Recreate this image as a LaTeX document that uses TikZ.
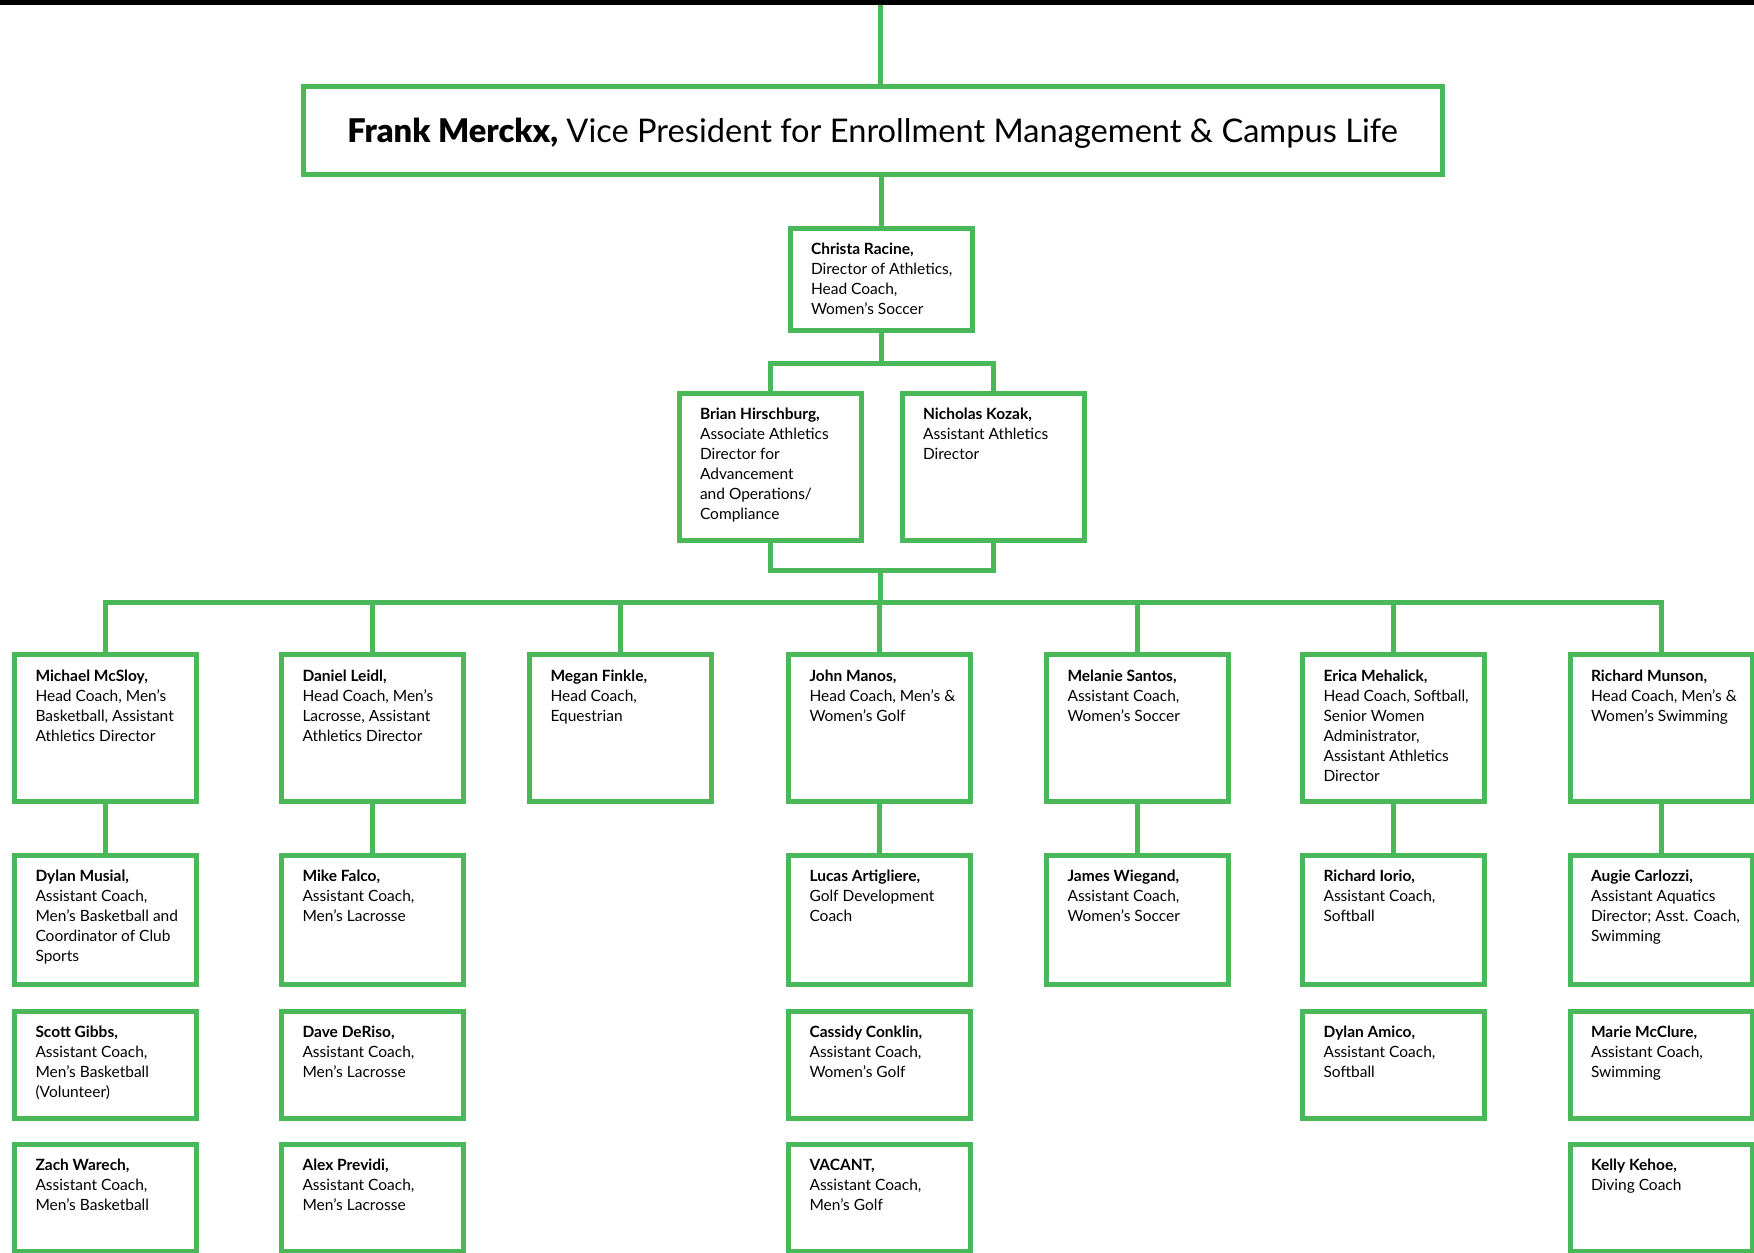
\documentclass[tikz,border=0pt]{standalone}
\usepackage{fontspec}
\setmainfont{Lato}
\newfontfamily\heavyfont{Lato Black}
\definecolor{clubgreen}{RGB}{74, 184, 89}
% lines of a card, never wrapped
\newcommand{\cardtext}[1]{\makebox[70pt][l]{\begin{tabular}[t]{@{}l@{}}#1\end{tabular}}}

\begin{document}
\begin{tikzpicture}[x=0.5pt, y=-0.5pt,
  link/.style={draw=clubgreen, line width=2.5pt, line join=miter},
  card/.style={draw=clubgreen, line width=2.5pt, outer sep=0pt, anchor=north,
    inner xsep=10.5pt, inner ysep=7.75pt,
    text height=5.5pt, font=\fontsize{7.75}{10}\selectfont},
  tallcard/.style={text depth=52.5pt},
  midcard/.style={text depth=43.5pt},
  lowcard/.style={text depth=32.5pt},
  vpcard/.style={draw=clubgreen, line width=2.5pt, outer sep=0pt, inner sep=0pt,
    minimum width=569.5pt, minimum height=43.6pt,
    text height=11.6pt, text depth=0pt, font=\fontsize{16.3}{19}\selectfont}]
  \useasboundingbox (0,0) rectangle (1754,1252);
  \fill[black] (0,0) rectangle (1754,4.7); % top bar

  % Top of the chart
  \node[vpcard] (vp) at (872.5, 130.4)
    {{\heavyfont Frank Merckx,} Vice President for Enrollment Management \& Campus Life};
  \node[card, text depth=30pt] (director) at (881, 228.2)
    {\cardtext{\textbf{Christa Racine,}\\Director of Athletics,\\Head Coach,\\Women's Soccer}};
  \node[card, tallcard] (assoc) at (770, 393.2)
    {\cardtext{\textbf{Brian Hirschburg,}\\Associate Athletics\\Director for\\Advancement\\and Operations/\\Compliance}};
  \node[card, tallcard] (asst) at (993, 393.2)
    {\cardtext{\textbf{Nicholas Kozak,}\\Assistant Athletics\\Director}};

  % Head coaches
  \node[card, tallcard] (mcsloy) at (105.5, 654.5)
    {\cardtext{\textbf{Michael McSloy,}\\Head Coach, Men's\\Basketball, Assistant\\Athletics Director}};
  \node[card, tallcard] (leidl) at (372.5, 654.5)
    {\cardtext{\textbf{Daniel Leidl,}\\Head Coach, Men's\\Lacrosse, Assistant\\Athletics Director}};
  \node[card, tallcard] (finkle) at (620.5, 654.5)
    {\cardtext{\textbf{Megan Finkle,}\\Head Coach,\\Equestrian}};
  \node[card, tallcard] (manos) at (879.5, 654.5)
    {\cardtext{\textbf{John Manos,}\\Head Coach, Men's \&\\Women's Golf}};
  \node[card, tallcard] (santos) at (1137.5, 654.5)
    {\cardtext{\textbf{Melanie Santos,}\\Assistant Coach,\\Women's Soccer}};
  \node[card, tallcard] (mehalick) at (1393.5, 654.5)
    {\cardtext{\textbf{Erica Mehalick,}\\Head Coach, Softball,\\Senior Women\\Administrator,\\Assistant Athletics\\Director}};
  \node[card, tallcard] (munson) at (1661, 654.5)
    {\cardtext{\textbf{Richard Munson,}\\Head Coach, Men's \&\\Women's Swimming}};

  % Assistants, second row
  \node[card, midcard] (musial) at (105.5, 855.2)
    {\cardtext{\textbf{Dylan Musial,}\\Assistant Coach,\\Men's Basketball and\\Coordinator of Club\\Sports}};
  \node[card, midcard] (falco) at (372.5, 855.2)
    {\cardtext{\textbf{Mike Falco,}\\Assistant Coach,\\Men's Lacrosse}};
  \node[card, midcard] (artigliere) at (879.5, 855.2)
    {\cardtext{\textbf{Lucas Artigliere,}\\Golf Development\\Coach}};
  \node[card, midcard] (wiegand) at (1137.5, 855.2)
    {\cardtext{\textbf{James Wiegand,}\\Assistant Coach,\\Women's Soccer}};
  \node[card, midcard] (iorio) at (1393.5, 855.2)
    {\cardtext{\textbf{Richard Iorio,}\\Assistant Coach,\\Softball}};
  \node[card, midcard] (carlozzi) at (1661, 855.2)
    {\cardtext{\textbf{Augie Carlozzi,}\\Assistant Aquatics\\Director; Asst. Coach,\\Swimming}};

  % Assistants, third row
  \node[card, lowcard] (gibbs) at (105.5, 1011)
    {\cardtext{\textbf{Scott Gibbs,}\\Assistant Coach,\\Men's Basketball\\(Volunteer)}};
  \node[card, lowcard] (deriso) at (372.5, 1011)
    {\cardtext{\textbf{Dave DeRiso,}\\Assistant Coach,\\Men's Lacrosse}};
  \node[card, lowcard] (conklin) at (879.5, 1011)
    {\cardtext{\textbf{Cassidy Conklin,}\\Assistant Coach,\\Women's Golf}};
  \node[card, lowcard] (amico) at (1393.5, 1011)
    {\cardtext{\textbf{Dylan Amico,}\\Assistant Coach,\\Softball}};
  \node[card, lowcard] (mcclure) at (1661, 1011)
    {\cardtext{\textbf{Marie McClure,}\\Assistant Coach,\\Swimming}};

  % Assistants, fourth row (runs off the page)
  \node[card, lowcard] (warech) at (105.5, 1144)
    {\cardtext{\textbf{Zach Warech,}\\Assistant Coach,\\Men's Basketball}};
  \node[card, lowcard] (previdi) at (372.5, 1144)
    {\cardtext{\textbf{Alex Previdi,}\\Assistant Coach,\\Men's Lacrosse}};
  \node[card, lowcard] (vacant) at (879.5, 1144)
    {\cardtext{\textbf{VACANT,}\\Assistant Coach,\\Men's Golf}};
  \node[card, lowcard] (kehoe) at (1661, 1144)
    {\cardtext{\textbf{Kelly Kehoe,}\\Diving Coach}};

  % Connectors
  \coordinate (topedge) at (880, 4.7);
  \coordinate (split) at (880, 363);
  \coordinate (join) at (880, 570.7);
  \coordinate (bus) at (880, 602);
  \draw[link] (topedge) -- (topedge |- vp.north);
  \draw[link] (director.north) -- (director.north |- vp.south);
  \draw[link] (director.south) -- (director.south |- split);
  \draw[link] (assoc.north) |- (split) -| (asst.north);
  \draw[link] (assoc.south) |- (join) -| (asst.south);
  \draw[link] (join) -- (bus);
  \draw[link] (mcsloy.north) |- (bus) -| (munson.north);
  \foreach \h in {leidl, finkle, manos, santos, mehalick}
    \draw[link] (\h.north) -- (\h.north |- bus);
  \foreach \a/\b in {mcsloy/musial, leidl/falco, manos/artigliere, santos/wiegand, mehalick/iorio, munson/carlozzi}
    \draw[link] (\a.south) -- (\b.north);
\end{tikzpicture}
\end{document}
